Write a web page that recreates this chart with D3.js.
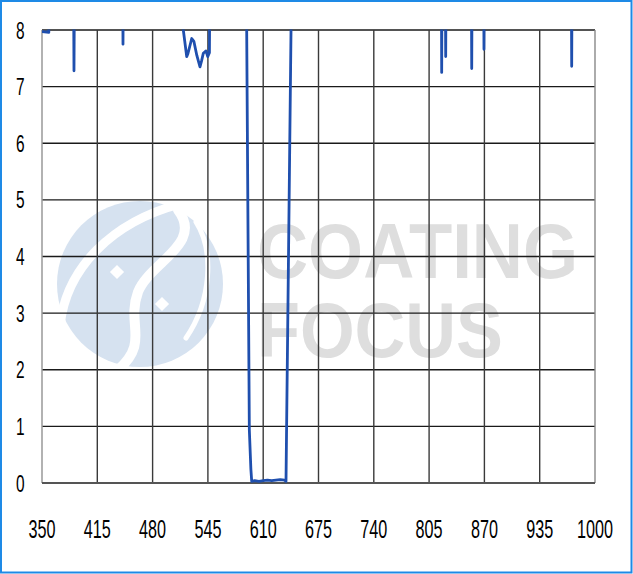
<!DOCTYPE html>
<html>
<head>
<meta charset="utf-8">
<script src="https://cdn.jsdelivr.net/npm/d3@7"></script>
<style>
  html, body { margin: 0; padding: 0; background: #fff; }
  svg { display: block; }
</style>
</head>
<body>
<svg id="chart" width="633" height="574"></svg>
<script>
// ---- data (wavelength in nm, optical density; values above 8 run off the top of the plot) ----
const wavelength = [
  350, 358, 359,
  386.8, 387.6, 388.4,
  444.6, 445.2, 445.8,
  515.2, 516.1, 520.1, 521.5, 526.0, 528.5, 532.0, 535.7, 537.5, 539.6, 542.8, 544.8, 546.8, 547.5,
  590.0, 590.6, 593.7, 595.5, 596.5, 600, 605, 610, 615, 620, 625, 630, 635, 636.8, 642.7, 643.3,
  819.3, 819.8, 820.3,
  823.9, 824.5, 825.1,
  854.5, 855.1, 855.7,
  868.9, 869.5, 870.1,
  972.0, 972.6, 973.2,
  1000
];
const density = [
  7.97, 7.96, 9.5,
  9.5, 7.28, 9.5,
  9.5, 7.75, 9.5,
  9.5, 8.0, 7.53, 7.58, 7.85, 7.80, 7.55, 7.35, 7.45, 7.59, 7.63, 7.53, 7.60, 9.5,
  9.5, 8.0, 0.94, 0.25, 0.03, 0.04, 0.03, 0.04, 0.05, 0.04, 0.05, 0.06, 0.05, 0.03, 8.0, 9.5,
  9.5, 7.25, 9.5,
  9.5, 7.53, 9.5,
  9.5, 7.32, 9.5,
  9.5, 7.66, 9.5,
  9.5, 7.36, 9.5,
  9.5
];
const xTicks = [350, 415, 480, 545, 610, 675, 740, 805, 870, 935, 1000];
const yTicks = [0, 1, 2, 3, 4, 5, 6, 7, 8];
const watermarkLines = ["COATING", "FOCUS"];

// ---- layout ----
const svg = d3.select("#chart");
const W = 633, H = 574;
const plot = { left: 42, right: 595, top: 30, bottom: 483 };

const x = d3.scaleLinear().domain([350, 1000]).range([plot.left, plot.right]);
const y = d3.scaleLinear().domain([0, 8]).range([plot.bottom, plot.top]);

// outer border
svg.append("rect")
  .attr("x", 1).attr("y", 1).attr("width", W - 2.5).attr("height", H - 2.5)
  .attr("fill", "#fff").attr("stroke", "#1e8ae6").attr("stroke-width", 2);

// ---- watermark (behind the grid) ----
const wm = svg.append("g").attr("class", "watermark");
wm.append("circle").attr("cx", 140).attr("cy", 284).attr("r", 83).attr("fill", "#d6e2f0");
// white swooshes inside logo
wm.append("path")
  .attr("d", "M60,326 C66,268 112,222 180,204")
  .attr("fill", "none").attr("stroke", "#fff").attr("stroke-width", 9).attr("stroke-linecap", "round");
wm.append("path")
  .attr("d", "M178,210 C204,244 150,262 138,292 C126,325 150,342 118,370")
  .attr("fill", "none").attr("stroke", "#fff").attr("stroke-width", 10).attr("stroke-linecap", "round");
wm.append("path")
  .attr("d", "M196,222 C214,250 212,300 186,338")
  .attr("fill", "none").attr("stroke", "#fff").attr("stroke-width", 5).attr("stroke-linecap", "round");
wm.selectAll("rect.dia").data([[117, 272], [162, 304]]).join("rect")
  .attr("class", "dia")
  .attr("x", -5).attr("y", -5).attr("width", 10).attr("height", 10)
  .attr("transform", d => `translate(${d[0]},${d[1]}) rotate(45)`)
  .attr("fill", "#fff");
wm.selectAll("text").data(watermarkLines).join("text")
  .attr("x", 257)
  .attr("y", (d, i) => i === 0 ? 278 : 357)
  .attr("font-family", "'Liberation Sans', Arial, sans-serif")
  .attr("font-weight", "bold")
  .attr("font-size", 77)
  .attr("fill", "#dedede")
  .attr("textLength", (d, i) => i === 0 ? 321 : 246)
  .attr("lengthAdjust", "spacingAndGlyphs")
  .text(d => d);

// ---- grid ----
const grid = svg.append("g");
grid.selectAll("line.h").data(yTicks.filter(v => v > 0)).join("line")
  .attr("class", "h")
  .attr("x1", plot.left).attr("x2", plot.right)
  .attr("y1", d => y(d)).attr("y2", d => y(d))
  .attr("stroke", "#1a1a1a").attr("stroke-width", 1.4);
grid.selectAll("line.v").data(xTicks.filter(v => v > 350)).join("line")
  .attr("class", "v")
  .attr("y1", plot.top).attr("y2", plot.bottom)
  .attr("x1", d => x(d)).attr("x2", d => x(d))
  .attr("stroke", d => d === 1000 ? "#888" : "#3a3a3a").attr("stroke-width", 1.4);
// left axis line
grid.append("line")
  .attr("x1", x(350)).attr("x2", x(350)).attr("y1", plot.top).attr("y2", plot.bottom)
  .attr("stroke", "#999").attr("stroke-width", 1.5);
// bottom axis line
grid.append("line")
  .attr("x1", plot.left).attr("x2", plot.right).attr("y1", y(0)).attr("y2", y(0))
  .attr("stroke", "#555").attr("stroke-width", 1.8);

// ---- data line ----
svg.append("clipPath").attr("id", "clip")
  .append("rect")
  .attr("x", plot.left).attr("y", plot.top - 0.5)
  .attr("width", plot.right - plot.left).attr("height", plot.bottom - plot.top + 2);

const pts = wavelength.map((w, i) => [w, density[i]]);
const line = d3.line().x(d => x(d[0])).y(d => y(d[1]));
svg.append("path")
  .datum(pts)
  .attr("clip-path", "url(#clip)")
  .attr("d", line)
  .attr("fill", "none")
  .attr("stroke", "#1f4fae")
  .attr("stroke-width", 2.8)
  .attr("stroke-linejoin", "round")
  .attr("stroke-linecap", "round");

// ---- tick labels ----
const labelFont = "'Liberation Sans Narrow', 'Liberation Sans', Arial, sans-serif";
svg.append("g").selectAll("text").data(yTicks).join("text")
  .attr("x", 24.5)
  .attr("y", d => y(d) + 8.5)
  .attr("text-anchor", "end")
  .attr("font-family", labelFont)
  .attr("font-size", 23.5)
  .attr("fill", "#000")
  .attr("textLength", d => String(d).length * 8.6)
  .attr("lengthAdjust", "spacingAndGlyphs")
  .text(d => d);

svg.append("g").selectAll("text").data(xTicks).join("text")
  .attr("x", d => x(d))
  .attr("y", 538)
  .attr("text-anchor", "middle")
  .attr("font-family", labelFont)
  .attr("font-size", 25.5)
  .attr("fill", "#000")
  .attr("textLength", d => String(d).length * 9.0)
  .attr("lengthAdjust", "spacingAndGlyphs")
  .text(d => d);
</script>
</body>
</html>
